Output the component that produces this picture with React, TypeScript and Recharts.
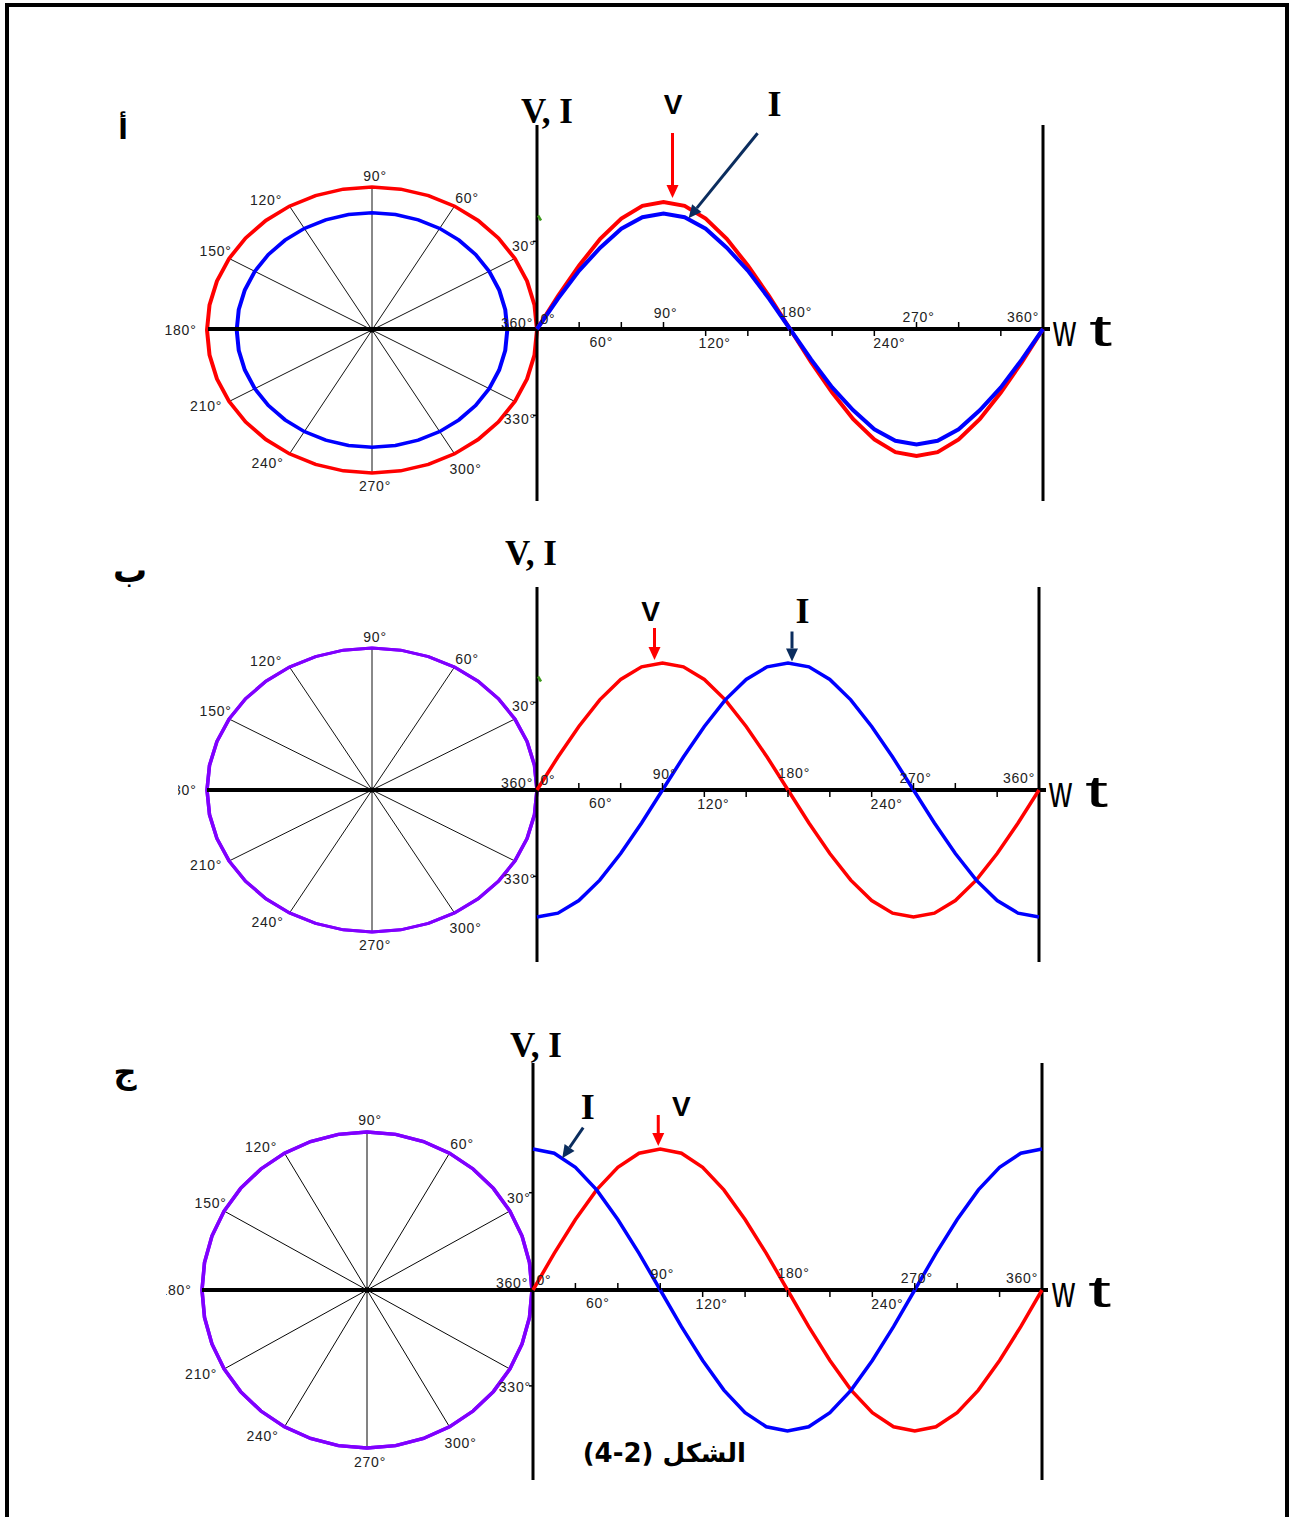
import React from "react";
import {
	ComposedChart,
	Line,
	XAxis,
	YAxis,
	ReferenceLine,
	ReferenceDot,
	RadarChart,
	Radar,
	PolarGrid,
	PolarAngleAxis,
	PolarRadiusAxis
} from "recharts";

// wt in degrees for the sampled waveforms
const waveDegrees = [0, 15, 30, 45, 60, 75, 90, 105, 120, 135, 150, 165, 180, 195, 210, 225, 240, 255, 270, 285, 300, 315, 330, 345, 360];

// (أ) current in phase with the voltage
const voltageA = [0, 0.26, 0.5, 0.71, 0.87, 0.97, 1, 0.97, 0.87, 0.71, 0.5, 0.26, 0, -0.26, -0.5, -0.71, -0.87, -0.97, -1, -0.97, -0.87, -0.71, -0.5, -0.26, 0];
const currentA = [0, 0.24, 0.46, 0.64, 0.79, 0.88, 0.91, 0.88, 0.79, 0.64, 0.46, 0.24, 0, -0.24, -0.46, -0.64, -0.79, -0.88, -0.91, -0.88, -0.79, -0.64, -0.46, -0.24, 0];

// (ب) current lagging by 90°
const voltageB = [0, 0.26, 0.5, 0.71, 0.87, 0.97, 1, 0.97, 0.87, 0.71, 0.5, 0.26, 0, -0.26, -0.5, -0.71, -0.87, -0.97, -1, -0.97, -0.87, -0.71, -0.5, -0.26, 0];
const currentB = [-1, -0.97, -0.87, -0.71, -0.5, -0.26, 0, 0.26, 0.5, 0.71, 0.87, 0.97, 1, 0.97, 0.87, 0.71, 0.5, 0.26, 0, -0.26, -0.5, -0.71, -0.87, -0.97, -1];

// (ج) current leading by 90°
const voltageC = [0, 0.26, 0.5, 0.71, 0.87, 0.97, 1, 0.97, 0.87, 0.71, 0.5, 0.26, 0, -0.26, -0.5, -0.71, -0.87, -0.97, -1, -0.97, -0.87, -0.71, -0.5, -0.26, 0];
const currentC = [1, 0.97, 0.87, 0.71, 0.5, 0.26, 0, -0.26, -0.5, -0.71, -0.87, -0.97, -1, -0.97, -0.87, -0.71, -0.5, -0.26, 0, 0.26, 0.5, 0.71, 0.87, 0.97, 1];

// phasor circles: one row per 10°
const phasorAngles = [0, 10, 20, 30, 40, 50, 60, 70, 80, 90, 100, 110, 120, 130, 140, 150, 160, 170, 180, 190, 200, 210, 220, 230, 240, 250, 260, 270, 280, 290, 300, 310, 320, 330, 340, 350];
const spokeAngles = [0, 30, 60, 90, 120, 150, 180, 210, 240, 270, 300, 330];
const phasorVoltage = [1, 1, 1];
const phasorCurrent = [0.82, 1, 1];

// wt axis
const axisTickDegrees = [30, 60, 90, 120, 150, 180, 210, 240, 270, 300, 330];
const axisLabelDegrees = [0, 60, 90, 120, 180, 240, 270, 360];
const axisLabels = ["0°", "60°", "90°", "120°", "180°", "240°", "270°", "360°"];
const smallYTicks = [0.69, -0.68];

// ---- layout ----
const MT = 60;
const MR = 80;
const MB = 4;
const OUTER_R = 165;
const LABEL_R = OUTER_R + 8;

const tickUp: Record<number, boolean> = {
	30: true, 60: true, 90: true, 120: false, 150: false, 180: false,
	210: false, 240: false, 270: true, 300: true, 330: false
};
// [dx to label centre, dy to baseline]
const axisLabelPlace: [number, number][] = [
	[11, -5], [-20, 18], [2, -11], [9, 19], [6, -12], [15, 19], [2, -7], [-20, -7]
];
// screen offsets of the circle labels from a point just outside the rim
const polarLabelPlace: Record<number, [number, number]> = {
	0: [-28, -7], 30: [2, -9.5], 60: [8.5, -2.5], 90: [3, -4], 120: [-19.5, 0],
	150: [-6.5, -4.5], 180: [-18.5, 0], 210: [-16, 1], 240: [-18, 3],
	270: [3, 6], 300: [7, 9.5], 330: [-2, 14.5]
};

const RED = "#ff0000";
const BLUE = "#0000ff";
const NAVY = "#0b2d5e";
const PURPLE = "#8000ff";

type Arrow = {
	series: "v" | "i";
	index: number;
	tip: [number, number];
	tail: [number, number];
	color: string;
	label: string;
	serif: boolean;
	labelAt: [number, number];
};

type Panel = {
	voltage: number[];
	current: number[];
	slot: number;
	x0: number;
	x360: number;
	axisY: number;
	lineTop: number;
	lineBottom: number;
	amp: number;
	lineLeft: number;
	lineRight: number;
	cx: number;
	cy: number;
	ry: number;
	clipLeft: number;
	curveWidth: number;
	circleColors: [string, string];
	circleWidth: number;
	title: [number, number];
	greenMark: boolean;
	arrows: Arrow[];
};

const panels: Panel[] = [
	{
		voltage: voltageA, current: currentA, slot: 0,
		x0: 537, x360: 1043, axisY: 329, lineTop: 125, lineBottom: 501, amp: 127,
		lineLeft: 208, lineRight: 1050,
		cx: 372, cy: 330, ry: 143, clipLeft: 150,
		curveWidth: 4, circleColors: [RED, BLUE], circleWidth: 4,
		title: [-16, -2], greenMark: true,
		arrows: [
			{ series: "v", index: 6, tip: [9, -4], tail: [0, -65], color: RED, label: "V", serif: false, labelAt: [0.5, -19] },
			{ series: "i", index: 7, tip: [4, 1], tail: [69, -85], color: NAVY, label: "I", serif: true, labelAt: [17, -17] }
		]
	},
	{
		voltage: voltageB, current: currentB, slot: 1,
		x0: 537, x360: 1039, axisY: 790, lineTop: 587, lineBottom: 962, amp: 127,
		lineLeft: 207, lineRight: 1046,
		cx: 372, cy: 790, ry: 142, clipLeft: 178,
		curveWidth: 3.5, circleColors: [PURPLE, PURPLE], circleWidth: 3.5,
		title: [-32, -22], greenMark: true,
		arrows: [
			{ series: "v", index: 6, tip: [-8, -3], tail: [0, -32], color: RED, label: "V", serif: false, labelAt: [-4, -7] },
			{ series: "i", index: 12, tip: [4, -1.5], tail: [0, -30], color: NAVY, label: "I", serif: true, labelAt: [10.5, -9] }
		]
	},
	{
		voltage: voltageC, current: currentC, slot: 2,
		x0: 533, x360: 1042, axisY: 1290, lineTop: 1063, lineBottom: 1480, amp: 141,
		lineLeft: 202, lineRight: 1048,
		cx: 367, cy: 1290, ry: 158, clipLeft: 166,
		curveWidth: 3.5, circleColors: [PURPLE, PURPLE], circleWidth: 3.5,
		title: [-23, -6], greenMark: false,
		arrows: [
			{ series: "i", index: 1, tip: [8, 5], tail: [21, -30.6], color: NAVY, label: "I", serif: true, labelAt: [4.5, -9] },
			{ series: "v", index: 6, tip: [-2, -3], tail: [0, -31], color: RED, label: "V", serif: false, labelAt: [23, 1] }
		]
	}
];

const labelFont = '"Liberation Sans", Arial, sans-serif';
const serifFont = '"Liberation Serif", "Times New Roman", serif';
const arabicFont = '"DejaVu Sans", sans-serif';

const arrowShape = (a: Arrow) => (props: any) => {
	const { cx, cy } = props;
	const tipX = cx + a.tip[0];
	const tipY = cy + a.tip[1];
	const tailX = tipX + a.tail[0];
	const tailY = tipY + a.tail[1];
	const len = Math.hypot(tipX - tailX, tipY - tailY);
	const ux = (tipX - tailX) / len;
	const uy = (tipY - tailY) / len;
	const bx = tipX - ux * 13;
	const by = tipY - uy * 13;
	const head = `${tipX},${tipY} ${bx - uy * 6},${by + ux * 6} ${bx + uy * 6},${by - ux * 6}`;
	return (
		<g>
			<line x1={tailX} y1={tailY} x2={bx} y2={by} stroke={a.color} strokeWidth={3} />
			<polygon points={head} fill={a.color} />
			<text
				x={tailX + a.labelAt[0]}
				y={tailY + a.labelAt[1]}
				textAnchor="middle"
				fontFamily={a.serif ? serifFont : labelFont}
				fontWeight="bold"
				fontSize={a.serif ? 36 : 28}
				fill="#000">
				{a.label}
			</text>
		</g>
	);
};

const WavePanel = ({ p }: { p: Panel }) => {
	const pxPerDeg = (p.x360 - p.x0) / 360;
	const xDomain = [(p.lineLeft - p.x0) / pxPerDeg, (p.lineRight - p.x0) / pxPerDeg];
	const yDomain = [-(p.lineBottom - p.axisY) / p.amp, (p.axisY - p.lineTop) / p.amp];
	const width = p.lineRight - p.lineLeft + MR;
	const height = p.lineBottom - p.lineTop + MT + MB;
	const rows = waveDegrees.map((deg, k) => ({ deg, v: p.voltage[k], i: p.current[k] }));

	return (
		<div style={{ position: "absolute", left: p.lineLeft, top: p.lineTop - MT }}>
			<ComposedChart width={width} height={height} data={rows} margin={{ top: MT, right: MR, bottom: MB, left: 0 }}>
				<XAxis dataKey="deg" type="number" domain={xDomain} allowDataOverflow hide />
				<YAxis type="number" domain={yDomain} allowDataOverflow hide />
				<ReferenceLine y={0} stroke="#000" strokeWidth={4} />
				<ReferenceLine x={0} stroke="#000" strokeWidth={3} />
				<ReferenceLine x={360} stroke="#000" strokeWidth={3} />
				{axisTickDegrees.map((d) => (
					<ReferenceDot
						key={`t${d}`}
						x={d}
						y={0}
						shape={({ cx, cy }: any) => (
							<line x1={cx} x2={cx} y1={cy} y2={tickUp[d] ? cy - 7 : cy + 7} stroke="#000" strokeWidth={1.5} />
						)}
					/>
				))}
				{smallYTicks.map((v) => (
					<ReferenceDot
						key={`y${v}`}
						x={0}
						y={v}
						shape={({ cx, cy }: any) => (
							<line x1={cx - 4} x2={cx} y1={cy} y2={cy} stroke="#000" strokeWidth={1.5} />
						)}
					/>
				))}
				{p.greenMark && (
					<ReferenceDot
						x={0}
						y={0.87}
						shape={({ cx, cy }: any) => (
							<line x1={cx + 1} x2={cx + 4} y1={cy - 3} y2={cy + 2} stroke="#3f9a1e" strokeWidth={2.5} />
						)}
					/>
				)}
				{axisLabelDegrees.map((d, k) => (
					<ReferenceDot
						key={`l${d}`}
						x={d}
						y={0}
						shape={({ cx, cy }: any) => (
							<text
								x={cx + axisLabelPlace[k][0]}
								y={cy + axisLabelPlace[k][1]}
								textAnchor="middle"
								fontFamily={labelFont}
								fontSize={14}
								letterSpacing={0.8}
								fill="#222">
								{axisLabels[k]}
							</text>
						)}
					/>
				))}
				<ReferenceDot
					x={0}
					y={yDomain[1]}
					shape={({ cx, cy }: any) => (
						<text x={cx + p.title[0]} y={cy + p.title[1]} fontFamily={serifFont} fontWeight="bold" fontSize={35} fill="#000">
							V, I
						</text>
					)}
				/>
				<ReferenceDot
					x={360}
					y={0}
					shape={({ cx, cy }: any) => (
						<g fontFamily={labelFont} fontSize={44} fill="#000">
							<text x={cx + 10} y={cy + 17} textLength={23} lengthAdjust="spacingAndGlyphs">w</text>
							<text x={cx + 46} y={cy + 17} textLength={23} lengthAdjust="spacingAndGlyphs">t</text>
						</g>
					)}
				/>
				<Line dataKey="v" type="linear" stroke={RED} strokeWidth={p.curveWidth} dot={false} isAnimationActive={false} />
				<Line dataKey="i" type="linear" stroke={BLUE} strokeWidth={p.curveWidth} dot={false} isAnimationActive={false} />
				{p.arrows.map((a, k) => (
					<ReferenceDot
						key={`a${k}`}
						x={waveDegrees[a.index]}
						y={(a.series === "v" ? p.voltage : p.current)[a.index]}
						shape={arrowShape(a)}
					/>
				))}
			</ComposedChart>
		</div>
	);
};

const PhasorPanel = ({ p }: { p: Panel }) => {
	const k = p.ry / OUTER_R;
	const H = 440;
	const W = p.cx - p.clipLeft + 200;
	const chartCx = p.cx - p.clipLeft;
	const chartCy = H / 2;
	const rows = phasorAngles.map((angle) => ({
		angle,
		v: phasorVoltage[p.slot],
		i: phasorCurrent[p.slot]
	}));

	// labels sit just outside the rim; text is un-squashed against the ellipse scaling
	const renderTick = (props: any) => {
		const deg = Number(props.payload.value);
		const off = polarLabelPlace[deg];
		if (!off) return <g />;
		const rad = (deg * Math.PI) / 180;
		const ax = chartCx + LABEL_R * Math.cos(rad) + off[0];
		const ay = chartCy - LABEL_R * Math.sin(rad) + off[1] / k;
		return (
			<text
				x={ax}
				y={ay}
				textAnchor="middle"
				dominantBaseline="central"
				transform={`translate(0 ${ay}) scale(1 ${1 / k}) translate(0 ${-ay})`}
				fontFamily={labelFont}
				fontSize={14}
				letterSpacing={0.8}
				fill="#222">
				{deg === 0 ? "360°" : `${deg}°`}
			</text>
		);
	};

	return (
		<div
			style={{
				position: "absolute",
				left: p.clipLeft,
				top: p.cy - H / 2,
				width: W,
				height: H,
				transform: `scaleY(${k})`,
				transformOrigin: "50% 50%"
			}}>
			<RadarChart
				width={W}
				height={H}
				data={rows}
				cx={chartCx}
				cy={chartCy}
				outerRadius={OUTER_R}
				startAngle={0}
				endAngle={360}
				margin={{ top: 0, right: 0, bottom: 0, left: 0 }}>
				<PolarGrid gridType="circle" polarAngles={spokeAngles} polarRadius={[]} stroke="#000" strokeWidth={1} />
				<PolarGrid gridType="circle" radialLines={false} polarRadius={[1.5]} stroke="#000" strokeWidth={3} />
				<PolarRadiusAxis type="number" domain={[0, 1]} tick={false} axisLine={false} />
				<PolarAngleAxis dataKey="angle" tick={renderTick} tickLine={false} axisLine={false} />
				<Radar dataKey="v" stroke={p.circleColors[0]} strokeWidth={p.circleWidth} fill="none" fillOpacity={0} dot={false} isAnimationActive={false} />
				<Radar dataKey="i" stroke={p.circleColors[1]} strokeWidth={p.circleWidth} fill="none" fillOpacity={0} dot={false} isAnimationActive={false} />
			</RadarChart>
		</div>
	);
};

export default function App() {
	return (
		<div
			style={{
				position: "absolute",
				left: 0,
				top: 0,
				width: 1289,
				height: 1517,
				overflow: "hidden",
				background: "#fff",
				fontFamily: labelFont
			}}>
			<div
				style={{
					position: "absolute",
					left: 5,
					top: 3,
					width: 1284,
					height: 1600,
					border: "4px solid #000",
					boxSizing: "border-box"
				}}
			/>
			{panels.map((p) => (
				<React.Fragment key={p.slot}>
					<PhasorPanel p={p} />
					<WavePanel p={p} />
				</React.Fragment>
			))}
			<svg style={{ position: "absolute", left: 0, top: 0 }} width={1289} height={1517} pointerEvents="none">
				<g fontFamily={arabicFont} fontWeight="bold" fill="#000" textAnchor="middle">
					<text x={123} y={139} fontSize={28}>أ</text>
					<text x={130} y={582} fontSize={34}>ب</text>
					<text x={125} y={1083} fontSize={32}>ج</text>
				</g>
			</svg>
			<div
				style={{
					position: "absolute",
					left: 546,
					top: 1438,
					width: 200,
					direction: "rtl",
					textAlign: "right",
					fontFamily: arabicFont,
					fontWeight: "bold",
					fontSize: 26,
					lineHeight: "30px",
					color: "#000",
					whiteSpace: "nowrap"
				}}>
				الشكل{" "}
				<span style={{ direction: "ltr", unicodeBidi: "isolate" }}>(4-2)</span>
			</div>
		</div>
	);
}
